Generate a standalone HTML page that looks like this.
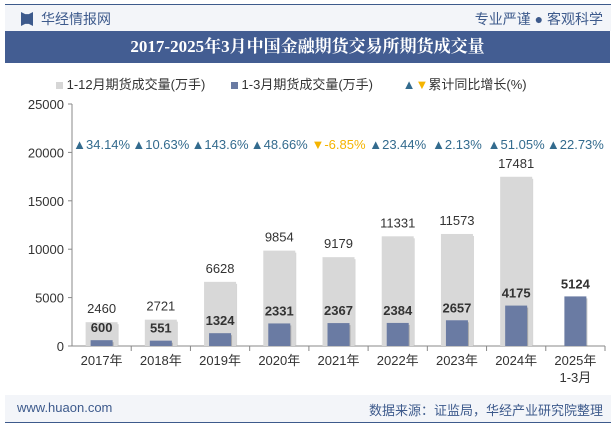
<!DOCTYPE html>
<html><head><meta charset="utf-8"><style>
body{margin:0;width:615px;height:427px;background:#fff;font-family:"Liberation Sans","Noto Sans CJK SC",sans-serif;overflow:hidden;position:relative}
.abs{position:absolute}
</style></head><body>
<div class="abs" style="left:5px;top:4px;width:606px;height:1px;background:#3d5a8c"></div>
<div class="abs" style="left:5px;top:5px;width:606px;height:26px;background:#f3f5f9"></div>
<div class="abs" style="left:21px;top:12px;width:12px;height:14px;background:#3d5a8c;clip-path:polygon(0 0,35% 15%,65% 15%,100% 0,100% 100%,65% 85%,35% 85%,0 100%)"></div>
<div class="abs" style="left:41px;top:9px;font-size:14px;color:#3d5a8c">华经情报网</div>
<div class="abs" style="right:12px;top:9px;font-size:14px;color:#3d5a8c">专业严谨 ● 客观科学</div>
<div class="abs" style="left:5px;top:31px;width:605px;height:32px;background:#435d92;color:#fff;font-family:'Liberation Serif','Noto Serif CJK SC',serif;font-weight:bold;font-size:17px;text-align:center;line-height:32px">2017-2025年3月中国金融期货交易所期货成交量</div>
<div class="abs" style="left:56px;top:74px;font-size:13px;color:#333;white-space:nowrap">
<span><span style="display:inline-block;width:7px;height:7px;background:#d6d6d6"></span> 1-12月期货成交量(万手)</span>
<span style="margin-left:22px"><span style="display:inline-block;width:7px;height:7px;background:#6a7ba3"></span> 1-3月期货成交量(万手)</span>
<span style="margin-left:26px"><span style="color:#336b8e">▲</span><span style="color:#f5b400">▼</span>累计同比增长(%)</span>
</div>
<svg class="abs" style="left:0;top:0" width="615" height="427" id="chart"></svg>
<div class="abs" style="left:5px;top:395px;width:606px;height:27px;background:#f3f5f9"></div>
<div class="abs" style="left:17px;top:400px;font-size:13px;color:#3d5a8c">www.huaon.com</div>
<div class="abs" style="right:12px;top:400px;font-size:13px;color:#3d5a8c">数据来源：证监局，华经产业研究院整理</div>
<div class="abs" style="left:5px;top:422px;width:606px;height:1px;background:#3d5a8c"></div>
<script>
const categories=["2017年","2018年","2019年","2020年","2021年","2022年","2023年","2024年","2025年"];
const annualValues=[2460,2721,6628,9854,9179,11331,11573,17481,null];
const q1Values=[600,551,1324,2331,2367,2384,2657,4175,5124];
const growthValues=[34.14,10.63,143.6,48.66,-6.85,23.44,2.13,51.05,22.73];
const yTicks=[0,5000,10000,15000,20000,25000];
const svg=document.getElementById('chart');
const NS='http://www.w3.org/2000/svg';
const X0=72,X1=605,Y0=346,Y1=104,YMAX=25000;
const step=(X1-X0)/categories.length;
const xc=i=>X0+step*(i+0.5);
const y=v=>Y0-(v/YMAX)*(Y0-Y1);
function mk(t,a,txt){const e=document.createElementNS(NS,t);for(const k in a)e.setAttribute(k,a[k]);if(txt!=null)e.textContent=txt;svg.appendChild(e);return e;}
let e;
e=mk('line',{x1:X0,y1:Y1,x2:X0,y2:Y0,stroke:'#888'});


yTicks.forEach(t=>{
 e=mk('line',{x1:X0-4,y1:y(t),x2:X0,y2:y(t),stroke:'#888'});
 
 
 e=mk('text',{x:X0-8,y:y(t)+5,'text-anchor':'end','font-size':13,fill:'#333'},t);
 
 
});
e=mk('line',{x1:X0,y1:Y0,x2:X1,y2:Y0,stroke:'#888'});


categories.forEach((c,i)=>{
 const cx=xc(i);
 e=mk('line',{x1:X0+step*(i+1),y1:Y0,x2:X0+step*(i+1),y2:Y0+5,stroke:'#888'});
 
 
 if(annualValues[i]!=null){
  const v=annualValues[i];
  mk('rect',{x:cx-15,y:y(v)+2,width:32,height:Y0-y(v)-2,fill:'#bbb',opacity:0.6});
  e=mk('rect',{x:cx-16,y:y(v),width:32,height:Y0-y(v),fill:'#d8d8d8'});
  
  
  e=mk('text',{x:cx,y:y(v)-9,'text-anchor':'middle','font-size':13,fill:'#333'},v);
  
  
 }
 const q=q1Values[i];
 mk('rect',{x:cx-10,y:y(q)+2,width:22,height:Y0-y(q)-2,fill:'#555',opacity:0.35});
 e=mk('rect',{x:cx-11,y:y(q),width:22,height:Y0-y(q),fill:'#6a7ba3'});
 
 
 e=mk('text',{x:cx,y:y(q)-8,'text-anchor':'middle','font-size':13,'font-weight':'bold',fill:'#333'},q);
 
 
 const g=growthValues[i];
 e=mk('text',{x:cx,y:149,'text-anchor':'middle','font-size':13,fill:g<0?'#f5b400':'#336b8e'},(g<0?'▼':'▲')+g+'%');
 
 
 e=mk('text',{x:cx,y:365,'text-anchor':'middle','font-size':13,fill:'#333'},c);
 
 
 if(i===categories.length-1){
  e=mk('text',{x:cx,y:382,'text-anchor':'middle','font-size':13,fill:'#333'},'1-3月');
  
  
 }
});
</script>
</body></html>
